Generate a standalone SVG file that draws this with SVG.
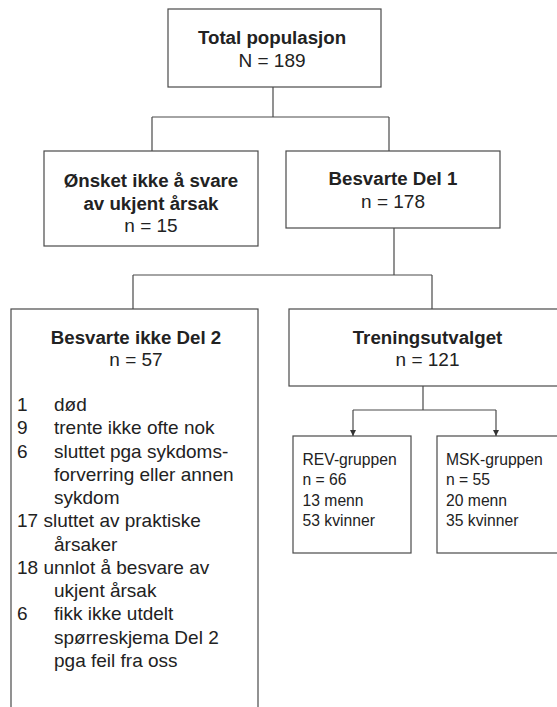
<svg xmlns="http://www.w3.org/2000/svg" width="557" height="707" viewBox="0 0 557 707">
<style>
.box{fill:#fff;stroke:#4a4a4a;stroke-width:1.2}
.ln{fill:none;stroke:#4a4a4a;stroke-width:1.2}
text{font-family:"Liberation Sans",Arial,Helvetica,sans-serif;fill:#222}
.b{font-weight:bold;font-size:18.7px;text-anchor:middle}
.r{font-size:19px;text-anchor:middle}
.l{font-size:19px}
.s{font-size:15.7px}
</style>
<defs>
<marker id="ah" markerWidth="7" markerHeight="7" refX="6" refY="3" orient="auto" markerUnits="userSpaceOnUse" overflow="visible">
<path d="M0,0 L6,3 L0,6 Z" fill="#333"/>
</marker>
</defs>
<rect width="557" height="707" fill="#fff"/>
<g id="total">
<rect class="box" x="168" y="9" width="213" height="78"/>
<text class="b" x="272" y="44">Total populasjon</text>
<text class="r" x="272" y="66.5">N = 189</text>
</g>
<g id="onsket">
<rect class="box" x="44" y="151" width="214" height="95"/>
<text class="b" x="151" y="186.5">Ønsket ikke å svare</text>
<text class="b" x="151" y="209.5">av ukjent årsak</text>
<text class="r" x="151" y="231.5">n = 15</text>
</g>
<g id="besvarte1">
<rect class="box" x="286" y="151" width="214" height="77"/>
<text class="b" x="393" y="185">Besvarte Del 1</text>
<text class="r" x="393" y="208">n = 178</text>
</g>
<g id="ikke2">
<rect class="box" x="11" y="309" width="247" height="420"/>
<text class="b" x="136" y="343.5">Besvarte ikke Del 2</text>
<text class="r" x="136" y="366">n = 57</text>
<text class="l" x="17" y="411">1</text><text class="l" x="54" y="411">død</text>
<text class="l" x="17" y="434.2">9</text><text class="l" x="54" y="434.2">trente ikke ofte nok</text>
<text class="l" x="17" y="457.5">6</text><text class="l" x="54" y="457.5">sluttet pga sykdoms-</text>
<text class="l" x="54" y="480.7">forverring eller annen</text>
<text class="l" x="54" y="504">sykdom</text>
<text class="l" x="17" y="527.2">17 sluttet av praktiske</text>
<text class="l" x="54" y="550.5">årsaker</text>
<text class="l" x="17" y="573.7">18 unnlot å besvare av</text>
<text class="l" x="54" y="597">ukjent årsak</text>
<text class="l" x="17" y="620.2">6</text><text class="l" x="54" y="620.2">fikk ikke utdelt</text>
<text class="l" x="54" y="643.5">spørreskjema Del 2</text>
<text class="l" x="54" y="666.7">pga feil fra oss</text>
</g>
<g id="trening">
<rect class="box" x="289" y="309" width="277" height="77"/>
<text class="b" x="427.5" y="343.5">Treningsutvalget</text>
<text class="r" x="427.5" y="366">n = 121</text>
</g>
<g id="rev">
<rect class="box" x="293" y="436" width="118" height="117"/>
<text class="s" x="302.5" y="464.5">REV-gruppen</text>
<text class="s" x="302.5" y="485">n = 66</text>
<text class="s" x="302.5" y="505.7">13 menn</text>
<text class="s" x="302.5" y="526.3">53 kvinner</text>
</g>
<g id="msk">
<rect class="box" x="437" y="436" width="130" height="117"/>
<text class="s" x="446" y="464.5">MSK-gruppen</text>
<text class="s" x="446" y="485">n = 55</text>
<text class="s" x="446" y="505.7">20 menn</text>
<text class="s" x="446" y="526.3">35 kvinner</text>
</g>
<g id="connectors">
<path class="ln" d="M273,87 V117 M152,117 H389 M152,117 V151 M389,117 V151"/>
<path class="ln" d="M394,228 V275 M133,275 H432 M133,275 V309 M432,275 V309"/>
<path class="ln" d="M423,386 V410 M353,410 H496"/>
<path class="ln" d="M353,410 V436" marker-end="url(#ah)"/>
<path class="ln" d="M496,410 V436" marker-end="url(#ah)"/>
</g>
</svg>
